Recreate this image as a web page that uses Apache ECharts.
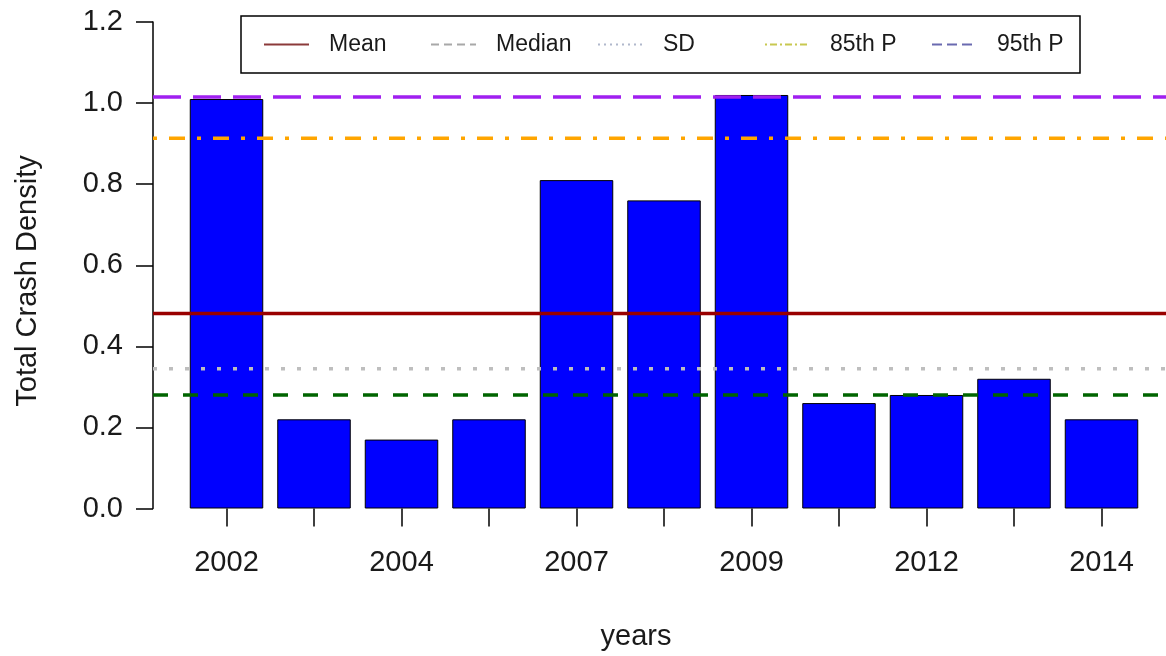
<!DOCTYPE html>
<html><head><meta charset="utf-8">
<script src="https://cdn.jsdelivr.net/npm/echarts@6/dist/echarts.min.js"></script>
<style>html,body{margin:0;padding:0;background:#fff}#c{width:1166px;height:656px}</style>
</head><body><div id="c"></div>
<script>
const years = ['2002','2003','2004','2005','2007','2008','2009','2010','2012','2013','2014'];
const density = [1.01, 0.22, 0.17, 0.22, 0.81, 0.76, 1.02, 0.26, 0.28, 0.32, 0.22];
const statNames = ['Mean', 'Median', 'SD', '85th P', '95th P'];
const statValues = [0.481, 0.28, 0.345, 0.913, 1.015];
const yMin = 0, yMax = 1.2, yStep = 0.2;

const FONT = "'Liberation Sans', Arial, sans-serif";
const TXT = '#1a1a1a';
const lineStyles = [
  {color: '#990000', type: 'solid', width: 3.5},
  {color: '#006400', type: [15, 15], width: 3.5},
  {color: '#BEBEBE', type: [4, 12], width: 3.5},
  {color: '#FFA500', type: [4, 12, 16, 12], width: 3.5},
  {color: '#A020F0', type: [28, 12], width: 3.5}
];
const legendStyles = [
  {color: '#8b3a3a', type: 'solid', width: 2},
  {color: '#a8a8a8', type: [8, 5], width: 2},
  {color: '#b0b8cc', type: [2, 4], width: 2},
  {color: '#c8c850', type: [2, 3, 7, 3], width: 2},
  {color: '#6a6ab0', type: [10, 5], width: 2}
];

const chart = echarts.init(document.getElementById('c'), null, {renderer: 'canvas'});
const statSeries = statNames.map((n, i) => ({
  name: n, type: 'line', xAxisIndex: 1, yAxisIndex: 1, symbol: 'none', silent: true,
  lineStyle: lineStyles[i], z: 5 + i, animation: false,
  data: [[0, statValues[i]], [1, statValues[i]]]
}));

const legends = statNames.map((n, i) => ({
  left: 263 + 167 * i, top: 16, padding: [17, 0, 17, 0], orient: 'horizontal', z: 10,
  itemWidth: 45, itemHeight: 20, selectedMode: false,
  textStyle: {fontSize: 23, fontFamily: FONT, color: TXT, padding: [0, 0, 0, 15]},
  data: [{name: n, lineStyle: legendStyles[i], itemStyle: {opacity: 0}}]
}));

chart.setOption({
  animation: false,
  backgroundColor: '#fff',
  grid: [
    {left: 182.75, width: 962.5, top: 22, bottom: 147.5},
    {left: 153, right: -9, top: 22, bottom: 147.5}
  ],
  legend: legends,
  xAxis: [
    {
      type: 'category', gridIndex: 0, data: years, boundaryGap: true,
      axisLine: {show: false},
      axisTick: {show: true, interval: 0, alignWithLabel: true, length: 18, lineStyle: {color: '#000', width: 1.5}},
      axisLabel: {interval: 1, margin: 40, fontSize: 29, fontFamily: FONT, color: TXT},
      splitLine: {show: false}
    },
    {type: 'value', gridIndex: 1, min: 0, max: 1, show: false}
  ],
  yAxis: [
    {type: 'value', gridIndex: 0, min: yMin, max: yMax, interval: yStep, show: false},
    {
      type: 'value', gridIndex: 1, min: yMin, max: yMax, interval: yStep,
      axisLine: {show: true, lineStyle: {color: '#000', width: 1.5}},
      axisTick: {show: true, length: 17, lineStyle: {color: '#000', width: 1.5}},
      axisLabel: {margin: 30, fontSize: 29, fontFamily: FONT, color: TXT, formatter: v => v.toFixed(1)},
      splitLine: {show: false}
    }
  ],
  graphic: [
    {type: 'rect', z: 9, shape: {x: 241, y: 16, width: 839, height: 57}, style: {fill: '#fff', stroke: '#000', lineWidth: 1.5}},
    {type: 'text', x: 636, y: 637, style: {text: 'years', font: "29px 'Liberation Sans', Arial, sans-serif", fill: TXT, textAlign: 'center', textVerticalAlign: 'middle'}},
    {type: 'text', x: 28, y: 281, rotation: Math.PI / 2, style: {text: 'Total Crash Density', font: "29px 'Liberation Sans', Arial, sans-serif", fill: TXT, textAlign: 'center', textVerticalAlign: 'middle'}}
  ],
  series: [
    {
      name: 'density', type: 'bar', xAxisIndex: 0, yAxisIndex: 0, barWidth: 73.5, z: 2,
      itemStyle: {color: '#0000FF', borderColor: '#000', borderWidth: 1},
      data: density
    }
  ].concat(statSeries)
});
</script></body></html>
